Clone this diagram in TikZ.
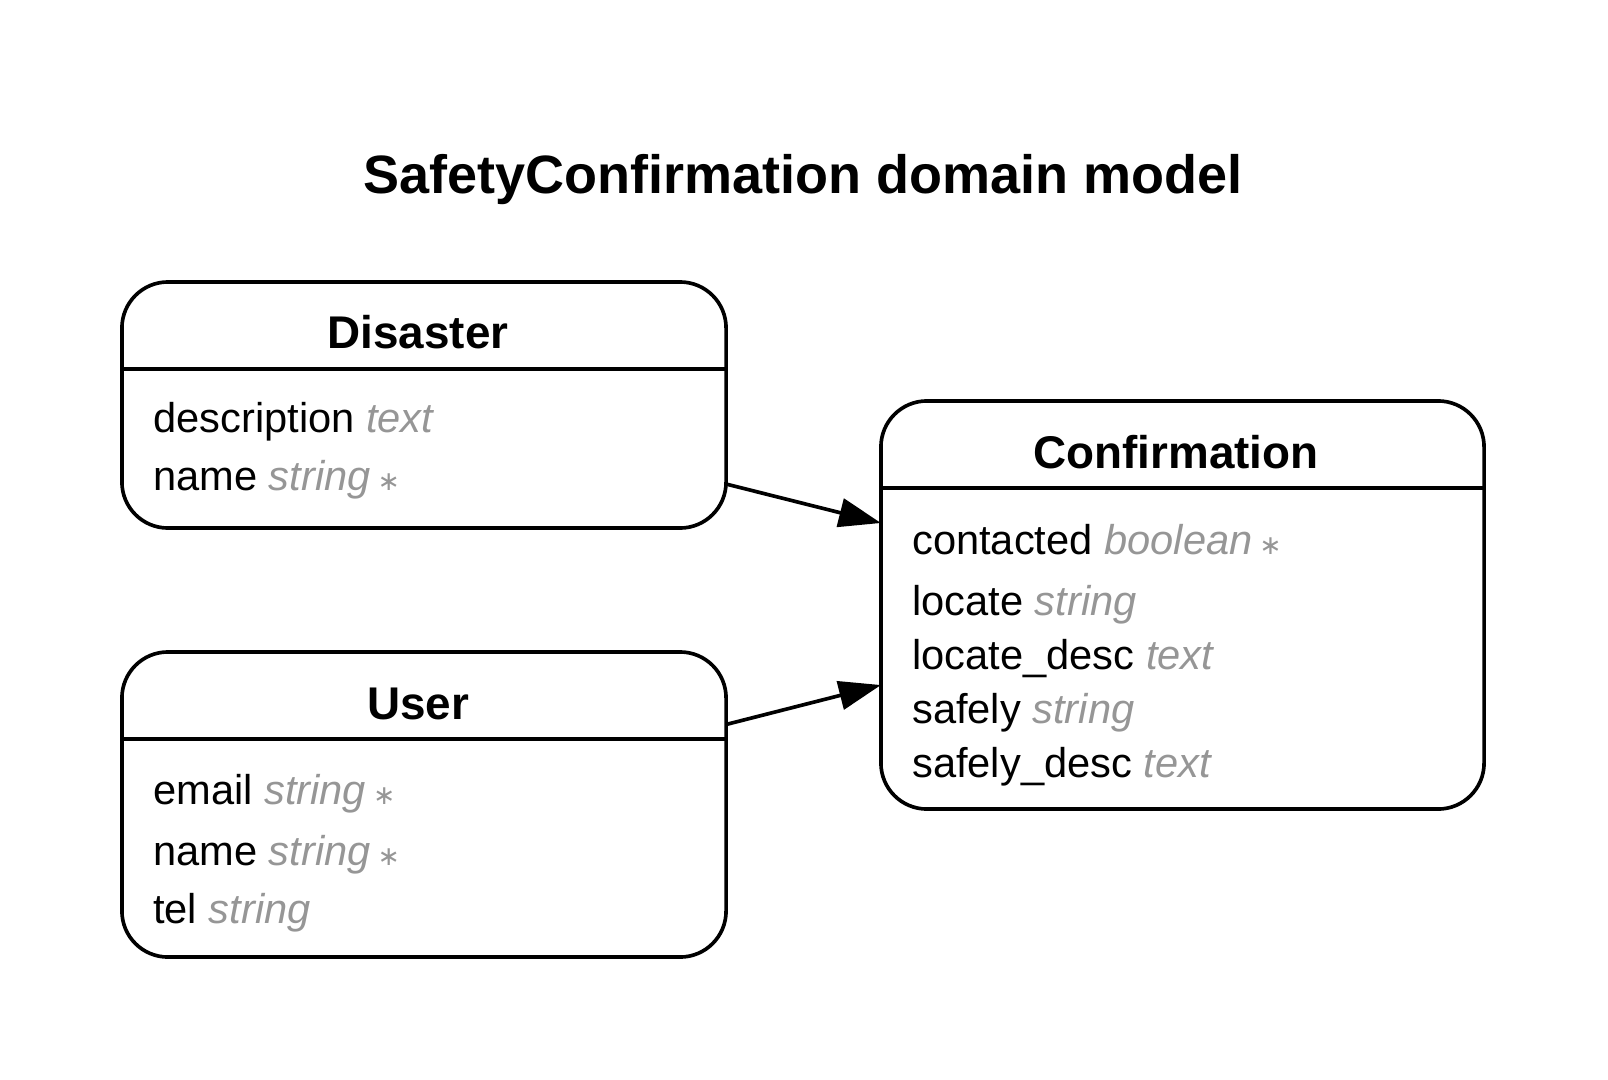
\documentclass[tikz,border=0pt]{standalone}
\usepackage{fontspec}
\setmainfont{Liberation Sans}
\newfontfamily\starfont{DejaVu Sans}
\usepackage{tikz}
\usetikzlibrary{arrows.meta}
\definecolor{typegrey}{RGB}{150,150,150}
\newcommand{\ty}[1]{{\color{typegrey}\itshape #1}}
\newcommand{\req}{\,{\color{typegrey}\starfont\fontsize{19}{19}\selectfont ∗}}

\begin{document}
\begin{tikzpicture}[
    x=0.025cm, y=-0.025cm,
    entity/.style={draw, line width=2.6pt, rounded corners=1.15cm, outer sep=0pt, minimum width=15.1cm},
    sepline/.style={line width=2.6pt},
    head/.style={inner sep=0pt, anchor=base, font=\fontsize{32.6}{36}\selectfont\bfseries},
    row/.style={inner sep=0pt, anchor=base west, font=\fontsize{29.6}{32}\selectfont},
    title/.style={inner sep=0pt, anchor=base, font=\fontsize{38.4}{42}\selectfont\bfseries},
    rel/.style={-{Triangle[length=1.05cm, width=0.72cm]}, line width=2.6pt}
]
\useasboundingbox (0,0) rectangle (1608,1079);

% Title
\node[title] (title) at (803,193) {SafetyConfirmation domain model};

% Entities
\node[entity, minimum height=6.15cm] (dis) at (424,405) {};
\node[entity, minimum height=7.625cm] (usr) at (424,804.5) {};
\node[entity, minimum width=15.075cm, minimum height=10.2cm] (conf) at (1182.5,605) {};

\draw[sepline] ([yshift=-2.175cm]dis.north west) -- ([yshift=-2.175cm]dis.north east);
\draw[sepline] ([yshift=-2.175cm]usr.north west) -- ([yshift=-2.175cm]usr.north east);
\draw[sepline] ([yshift=-2.175cm]conf.north west) -- ([yshift=-2.175cm]conf.north east);

% Disaster
\node[head] (dis-head) at (418,348) {Disaster};
\node[row] (dis-desc) at (153,432) {description \ty{text}};
\node[row] (dis-name) at (153,490) {name \ty{string}\req};

% User
\node[head] (usr-head) at (418,719) {User};
\node[row] (usr-email) at (153,804) {email \ty{string}\req};
\node[row] (usr-name) at (153,865) {name \ty{string}\req};
\node[row] (usr-tel) at (153,923) {tel \ty{string}};

% Confirmation
\node[head] (conf-head) at (1176,468) {Confirmation};
\node[row] (conf-cont) at (912,554) {contacted \ty{boolean}\req};
\node[row] (conf-loc) at (912,615) {locate \ty{string}};
\node[row] (conf-locd) at (912,669) {locate\_desc \ty{text}};
\node[row] (conf-safe) at (912,723) {safely \ty{string}};
\node[row] (conf-safed) at (912,777) {safely\_desc \ty{text}};

% Relations
\draw[rel] ([yshift=-1.975cm]dis.east) -- ([yshift=2.05cm]conf.west);
\draw[rel] ([yshift=2.0cm]usr.east) -- ([yshift=-2.0cm]conf.west);

\end{tikzpicture}
\end{document}
